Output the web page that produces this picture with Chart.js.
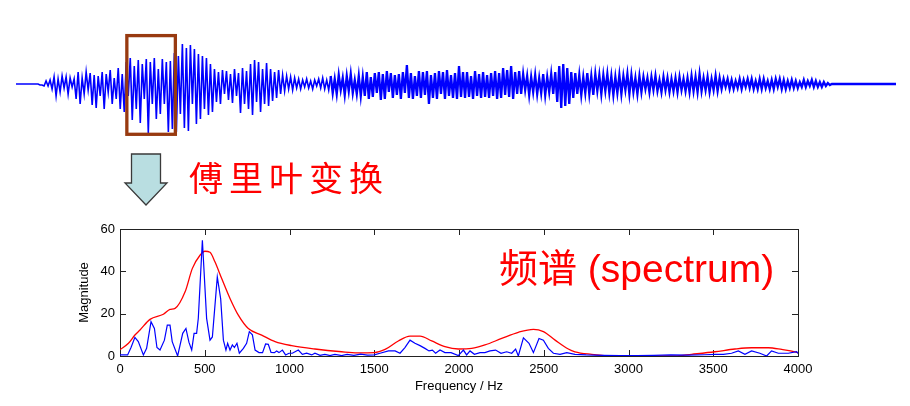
<!DOCTYPE html>
<html>
<head>
<meta charset="utf-8">
<script src="https://cdn.jsdelivr.net/npm/chart.js@4.4.1/dist/chart.umd.min.js"></script>
<style>
  html, body { margin: 0; padding: 0; background: #fff; }
  #page { position: relative; width: 910px; height: 406px; overflow: hidden; }
  #waveCanvas { position: absolute; left: 0; top: 0; }
  #specCanvas { position: absolute; left: 0; top: 215px; }
  #arrow { position: absolute; left: 0; top: 0; }
  #fourier {
    position: absolute; left: 189px; top: 160px;
    font-family: "Noto Sans CJK SC"; font-size: 34px; line-height: 34px;
    letter-spacing: 6px; color: #ff0000; white-space: nowrap;
  }
</style>
</head>
<body>
<div id="page">
  <canvas id="waveCanvas" width="910" height="150"></canvas>
  <svg id="arrow" width="910" height="220">
    <polygon points="131.5,154 160.5,154 160.5,183 167,183 146,205 125,183 131.5,183"
             fill="#b9dee1" stroke="#3a3a3a" stroke-width="1.3" stroke-linejoin="miter"/>
  </svg>
  <div id="fourier">傅里叶变换</div>
  <canvas id="specCanvas" width="910" height="191"></canvas>
</div>
<script>
// waveform samples (amplitude in order, left to right)
const waveLead = [0,0,0,0,0,0,0,0,0,0,0,0,-1,-1, -2,3,-2,
  4,-5,7,-12,5,-8,8,-4,7,-10,6,-3,5,
  -15,12,-20,6,-10,12,-6,11,-21,9,-24,8,
  -12,12,-25,10,-8,14,-20,6,-15,16,-25,10,-28];
const waveBurst = [22,-12,26,-36,18,-25,24,-39,20,-15,
  25,-49,22,-20,26,-35,15,
  -30,25,-20,22,-48,23,
  -45,31,-48,28,
  -30,40,-44,36,-47,39,-20,35,-40,30,
  -35,28,-25,26,-31,20,-28,15,
  -18,12,-20,14,-10,13,-16,10,-19,15,-12,11,
  -29,16,-20,13,-25,
  20,-31,24,-18,22,-28,15,-20,21,-22,
  15,-17,12,-14,14,-10,9,-7,
  8,-5,7,-6,6,-4,5,
  -5,4,-3,5,-4,3,-5,4,-2,5,-4,6,-5,4,-6];
const waveMiddle = [8,-9,5,-10,9,-6,6,-11,8,-7,10,-9,4,-10,8,-12,7,-12,
  12,-15,7,-13,11,-9,12,-16,10,-15,13,-8,11,-14,9,-11,10,
  -15,12,-9,19,-14,11,-15,8,-12,13,
  -14,12,-11,13,-20,9,-14,11,-15,13,-10,12,-15,14,-12,9,-14,11,-15,18,-13,12,-14,
  12,-13,8,-15,13,-12,10,-14,12,-13,9,-14,11,-12,13,-15,11,
  -14,16,-11,14,-13,18,-15,12,-10,13,
  -10,10,-6,8,-11,7,-8,9,-10,6,-9,10,-11,7,-8,10,-10,12,
  -18,18,-24,20,-22,16,-20,12,-14,11,
  -10,9,-11,7,-9,11,-10,8,-11,10,-7,9];
const waveTail = [-10,9,-7,10,-9,8,-11,7,-9,9,-10,8,-6,10,-10,9,-8,6,-10,8,
  -8,7,-5,6,-8,7,-6,8,-7,4,-8,7,-6,6,-8,5,-7,6,-8,7,-6,5,-7,6,-8,
  8,-7,7,-8,10,-7,6,-6,7,-8,5,-6,8,-7,6,
  -5,5,-3,5,-5,4,-5,3,-4,5,-5,4,-3,5,-4,5,-5,3,-5,5,
  -5,5,-4,3,-5,4,-5,5,-3,5,-5,4,-5,3,-4,
  4,-4,3,-4,2,-3,4,-3,3,-2,4,-3,3,-3,2,-3,2,-2,
  1,-1,0,0,0,0,0,0,0,0,0,0,0,0,0,0,0,0,0,0,0,0,0,0,0,0,0,0,0,0,0,0,0,0,0];
const waveSamples = [...waveLead, ...waveBurst, ...waveMiddle, ...waveTail];
const denseFrom = waveLead.length + waveBurst.length;

// highlighted window (sample index range, amplitude range)
const windowStart = 55.3, windowEnd = 79.5;
const windowTop = 48.4, windowBottom = -50.3;

// spectrum
const blueFreq = [0,20,45,65,88,108,138,157,183,203,
  218,236,262,279,295,308,340,370,389,407,
  423,437,452,462,486,511,531,545,574,594,
  610,625,635,649,663,675,690,704,728,747,
  763,781,797,820,841,859,875,891,911,924,
  938,958,977,997,1017,1052,1076,1101,1131,1150,
  1180,1209,1239,1268,1308,1340,1380,1420,1460,1500,
  1534,1584,1623,1652,1681,1711,1740,1770,1799,1823,
  1843,1862,1888,1917,1953,1996,2026,2045,2065,2091,
  2124,2153,2183,2216,2248,2281,2311,2334,2350,2380,
  2413,2439,2472,2498,2527,2557,2596,2636,2684,2750,
  2850,2950,3050,3150,3250,3350,3450,3510,3560,3608,
  3648,3687,3726,3775,3815,3844,3884,3943,3992,4000];
const blueMag = [0.5,0.5,0.5,4,8.8,6.8,0.5,3.6,16.2,13,
  4,2.8,7.5,14.6,14.6,6.8,0,10.7,13,6.4,
  2.8,10.7,10.7,17.8,54.7,17.8,7.5,9,37.4,27,
  7.5,2.8,6,2.8,5.2,4,6,1.3,3.6,6,
  11.5,10,2.8,1.6,1.6,5.7,5.5,1.7,1.6,2.4,
  1.6,2.8,0.5,1.3,1.3,2.8,0.8,1.3,0.5,1.3,
  0.3,0.8,0.2,0.8,0.2,0.8,0.3,0.9,0.4,0.5,
  1.3,2.4,2.4,1.3,4,7.5,6,4.9,3.6,2.4,
  2.8,1.3,2.8,1.6,1.6,0.2,2.8,0.5,2.4,0.8,
  1.6,1.6,2.4,2.8,1.3,2,1.3,3.3,0,8.6,
  6,1.6,8.3,7.5,3.6,1.3,0.8,1.6,0.8,0.5,
  0.3,0.2,0.2,0.3,0.5,0.4,0.6,0.8,0.8,1.3,
  2.4,0.8,2.4,1.3,0,2.4,1.3,1.3,2,1.2];
const redFreq = [0,50,88,118,177,256,295,325,384,427,
  472,501,531,560,600,649,698,757,836,915,
  1013,1150,1308,1400,1500,1564,1642,1711,1770,1839,
  1917,1996,2075,2153,2252,2350,2439,2498,2567,2645,
  2684,2783,2901,3000,3100,3200,3274,3372,3510,3628,
  3726,3825,3904,3982,4000];
const redMag = [3,6,9.9,12.3,17.3,19.7,22,22.5,30.3,41.4,
  47.6,49.5,49,44.5,36.6,27.2,19.3,13,9.9,6.8,
  4.9,3.3,2,1.5,1.6,3.1,7.1,9.4,9.4,7.1,
  4.4,3.3,3.6,5.2,8.3,11.2,12.6,11.5,7.5,3.3,
  2,0.8,0,0,0,0,0,0.8,2,3.3,
  3.9,3.9,3.1,2,1.5];

const freqTicks = [0, 500, 1000, 1500, 2000, 2500, 3000, 3500, 4000];
const magTicks = [0, 20, 40, 60];
const spectrumLabel = '频谱 (spectrum)';

const tickFont = { family: '"Liberation Sans", Arial, sans-serif', size: 13 };

// brown box round the analysed window
const windowBox = {
  id: 'windowBox',
  afterDatasetsDraw(chart) {
    const { ctx, scales: { x, y } } = chart;
    const x0 = x.getPixelForValue(windowStart), x1 = x.getPixelForValue(windowEnd);
    const y0 = y.getPixelForValue(windowTop), y1 = y.getPixelForValue(windowBottom);
    ctx.save();
    ctx.strokeStyle = '#983a10';
    ctx.lineWidth = 3.3;
    ctx.strokeRect(x0, y0, x1 - x0, y1 - y0);
    ctx.restore();
  }
};

new Chart(document.getElementById('waveCanvas'), {
  type: 'line',
  data: {
    labels: waveSamples.map((v, i) => i),
    datasets: [{
      data: waveSamples,
      borderColor: '#0000ff',
      borderWidth: 1.6,
      borderJoinStyle: 'miter',
      pointRadius: 0,
      tension: 0,
      // the later part of the recording is a dense band
      segment: { borderWidth: c => (c.p0DataIndex >= denseFrom ? 2.3 : 1.6) }
    }]
  },
  options: {
    responsive: false,
    animation: false,
    events: [],
    layout: { padding: { left: 16, right: 14, top: 34, bottom: 11 } },
    plugins: { legend: { display: false }, tooltip: { enabled: false } },
    scales: {
      x: { display: false },
      y: { display: false, min: -55, max: 50 }
    }
  },
  plugins: [windowBox]
});

// frame with inward ticks, like the original plot
const framePlugin = {
  id: 'frame',
  beforeDatasetsDraw(chart) {
    const { ctx, chartArea: a, scales: { x, y } } = chart;
    const len = 6;
    ctx.save();
    ctx.strokeStyle = '#222';
    ctx.lineWidth = 1;
    ctx.strokeRect(Math.round(a.left) + 0.5, Math.round(a.top) + 0.5,
      Math.round(a.right - a.left), Math.round(a.bottom - a.top));
    ctx.beginPath();
    freqTicks.slice(1, -1).forEach(f => {
      const px = Math.round(x.getPixelForValue(f)) + 0.5;
      ctx.moveTo(px, a.top); ctx.lineTo(px, a.top + len);
      ctx.moveTo(px, a.bottom); ctx.lineTo(px, a.bottom - len);
    });
    magTicks.slice(1, -1).forEach(m => {
      const py = Math.round(y.getPixelForValue(m)) + 0.5;
      ctx.moveTo(a.left, py); ctx.lineTo(a.left + len, py);
      ctx.moveTo(a.right, py); ctx.lineTo(a.right - len, py);
    });
    ctx.stroke();
    ctx.restore();
  }
};

const labelPlugin = {
  id: 'spectrumLabel',
  afterDraw(chart) {
    const { ctx, chartArea: a } = chart;
    ctx.save();
    ctx.font = '39px "Liberation Sans", "Noto Sans CJK SC", sans-serif';
    ctx.fillStyle = '#ff0000';
    ctx.textBaseline = 'alphabetic';
    ctx.fillText(spectrumLabel, a.left + 379, a.top + 53);
    ctx.restore();
  }
};

new Chart(document.getElementById('specCanvas'), {
  type: 'line',
  data: {
    datasets: [
      {
        data: blueFreq.map((f, i) => ({ x: f, y: blueMag[i] })),
        borderColor: '#0000ff',
        borderWidth: 1.2,
        pointRadius: 0,
        tension: 0
      },
      {
        data: redFreq.map((f, i) => ({ x: f, y: redMag[i] })),
        borderColor: '#ff0000',
        borderWidth: 1.3,
        pointRadius: 0,
        cubicInterpolationMode: 'monotone'
      }
    ]
  },
  options: {
    responsive: false,
    animation: false,
    events: [],
    layout: { padding: { left: 75, right: 112, top: 14, bottom: 10 } },
    plugins: { legend: { display: false }, tooltip: { enabled: false } },
    scales: {
      x: {
        type: 'linear', min: 0, max: 4000,
        afterBuildTicks: s => { s.ticks = freqTicks.map(v => ({ value: v })); },
        ticks: { autoSkip: false, maxRotation: 0, padding: 6, color: '#000', font: tickFont,
          callback: v => String(v) },
        grid: { display: false, drawTicks: false },
        border: { display: false },
        title: { display: true, text: 'Frequency / Hz', color: '#000', font: tickFont, padding: { top: 0, bottom: 2 } },
        afterFit: s => { s.height = 40; }
      },
      y: {
        min: 0, max: 60,
        afterBuildTicks: s => { s.ticks = magTicks.map(v => ({ value: v })); },
        ticks: { padding: 5, color: '#000', font: tickFont, callback: v => String(v) },
        grid: { display: false, drawTicks: false },
        border: { display: false },
        title: { display: true, text: 'Magnitude', color: '#000', font: tickFont, padding: { top: 2, bottom: 0 } },
        afterFit: s => { s.width = 45; }
      }
    }
  },
  plugins: [framePlugin, labelPlugin]
});
</script>
</body>
</html>
